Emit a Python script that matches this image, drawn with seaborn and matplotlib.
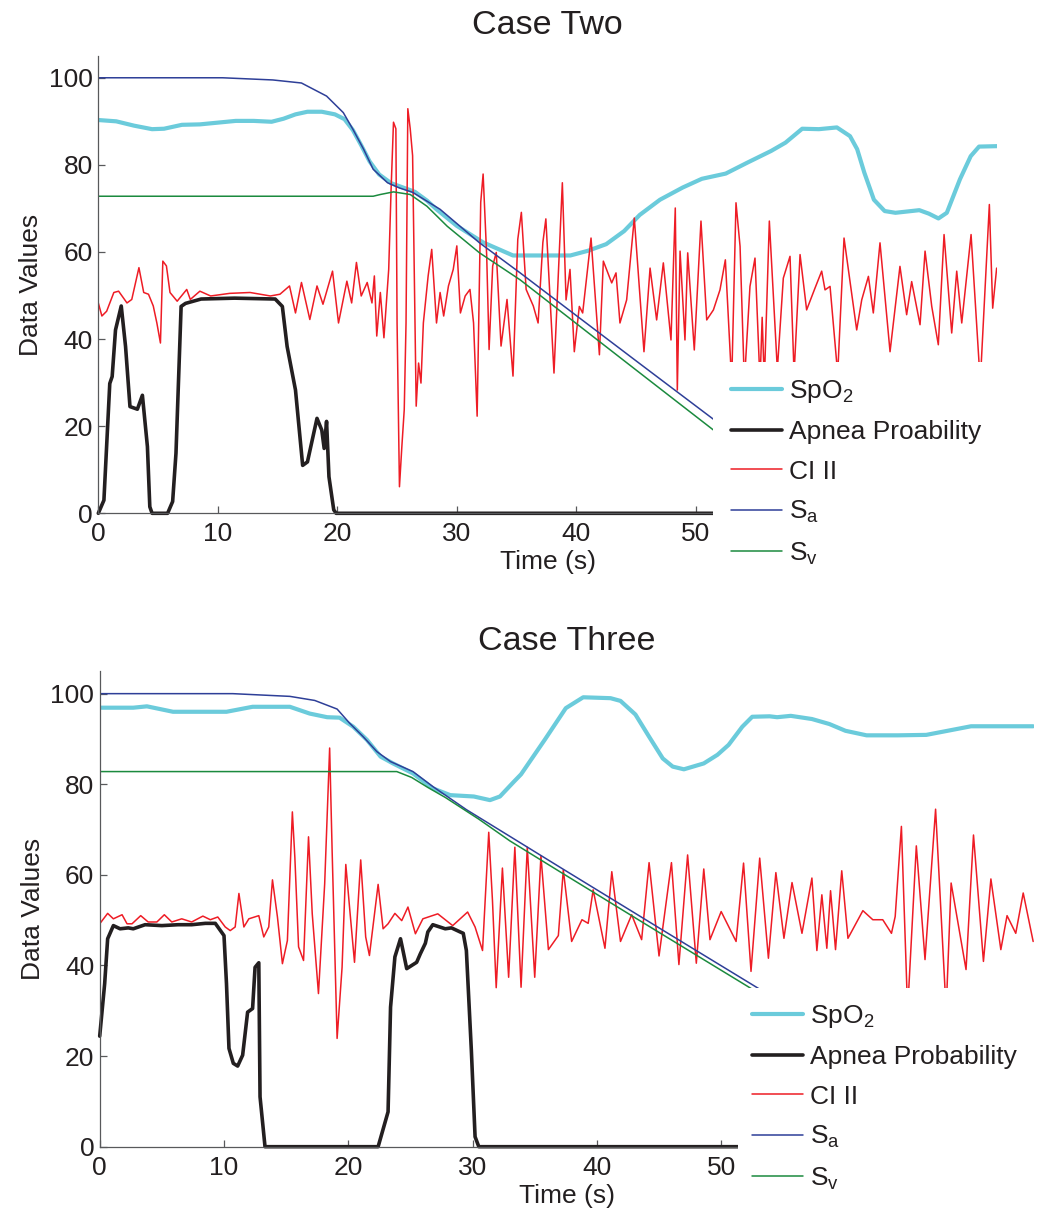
import matplotlib
matplotlib.use("Agg")
import matplotlib.pyplot as plt
from matplotlib.patches import Rectangle
import seaborn as sns

# ---------------- Case Two data ----------------
two_spo2_t = [0, 1.5, 3, 4.5, 5.5, 7, 8.5, 10, 11.5, 13,
              14.5, 15.5, 16.5, 17.5, 18.7, 19.8, 20.6, 21.3, 22, 22.7,
              23.5, 24.5, 25.5, 26.5, 27.5, 28.3, 30, 32.2, 34.7, 36,
              39.5, 41, 42.5, 44, 45.3, 47, 48.9, 50.5, 52.5, 54.3,
              56.3, 57.5, 58.9, 60.3, 61.8, 62.9, 63.5, 64.1, 64.9, 65.8,
              66.7, 68.7, 69.5, 70.3, 71.0, 72.1, 73.0, 73.7, 75.2]
two_spo2_v = [90.3, 90, 89, 88.2, 88.3, 89.2, 89.3, 89.7, 90.1, 90.1,
              89.9, 90.6, 91.6, 92.2, 92.2, 91.6, 90.5, 88, 84.5, 80.8,
              77.8, 75.8, 74.8, 73.8, 71.8, 69.8, 66, 62.2, 59.2, 59.2,
              59.2, 60.3, 61.8, 64.8, 68.5, 72, 74.8, 76.8, 78, 80.5,
              83.2, 85.1, 88.3, 88.2, 88.6, 86.6, 83.6, 78.2, 72, 69.4,
              69, 69.6, 68.8, 67.7, 69, 76.7, 82, 84.2, 84.3]

two_apnea_t = [0, 0.47, 0.96, 1.16, 1.44, 1.92, 2.28, 2.65, 3.27, 3.69,
               4.11, 4.31, 4.5, 5.8, 6.22, 6.5, 6.93, 7.3, 8.6, 11.4,
               14.8, 15.4, 15.8, 16.5, 17.1, 17.5, 18.3, 18.7, 18.9, 19.1,
               19.3, 19.7, 19.9, 75.2]
two_apnea_v = [0, 3, 29.8, 31.4, 42.1, 47.6, 38.3, 24.5, 23.9, 27.1,
               15.3, 1.5, 0, 0, 2.7, 13.8, 47.5, 48.2, 49.2, 49.4,
               49.2, 47.5, 38.3, 28.3, 11, 11.8, 21.8, 19.1, 14.9, 21.1,
               8.4, 0.8, 0, 0]

two_ci_t = [0, 0.3, 0.7, 1.3, 1.7, 2.4, 2.8, 3.4, 3.8, 4.2,
            4.6, 4.9, 5.2, 5.4, 5.7, 6.0, 6.6, 7.4, 7.7, 8.5,
            9.4, 11.0, 12.7, 14.4, 15.2, 16.0, 16.5, 17.0, 17.7, 18.3,
            18.8, 19.6, 20.1, 20.8, 21.2, 21.6, 22.0, 22.5, 22.9, 23.1,
            23.3, 23.6, 23.9, 24.3, 24.5, 24.7, 24.9, 25.0, 25.2, 25.4,
            25.6, 25.75, 25.9, 26.1, 26.3, 26.5, 26.6, 26.8, 27.0, 27.2,
            27.6, 27.9, 28.3, 28.6, 28.9, 29.3, 29.7, 30.0, 30.3, 30.7,
            31.1, 31.4, 31.7, 32.0, 32.2, 32.5, 32.7, 33.0, 33.3, 33.7,
            34.2, 34.7, 35.1, 35.4, 35.8, 36.4, 36.8, 37.2, 37.45, 38.13,
            38.83, 39.14, 39.47, 39.83, 40.25, 40.53, 41.23, 41.93, 42.26, 42.96,
            43.32, 43.65, 44.21, 44.85, 45.66, 46.17, 46.72, 47.28, 47.92, 48.28,
            48.45, 48.68, 49.09, 49.32, 49.87, 50.43, 50.91, 51.47, 52.02, 52.47,
            53.0, 53.36, 53.7, 54.06, 54.53, 54.95, 55.37, 55.55, 55.73, 56.15,
            56.82, 57.32, 57.88, 58.22, 58.72, 59.27, 59.97, 60.53, 60.81, 61.23,
            61.87, 62.4, 63.46, 63.88, 64.44, 64.85, 65.41, 66.25, 67.08, 67.64,
            68.06, 68.76, 69.18, 69.74, 70.29, 70.77, 71.41, 71.83, 72.25, 73.03,
            73.8, 74.56, 74.84, 75.17]
two_ci_v = [48.3, 45.3, 46.4, 50.7, 51, 48.3, 49.1, 56.4, 50.7, 50.3,
            47.6, 43.7, 39.1, 57.9, 56.8, 50.7, 48.7, 51.4, 49.1, 51,
            49.9, 50.5, 50.7, 49.9, 50.3, 52.2, 46, 53, 44.5, 52.2,
            48, 55.6, 43.7, 53.3, 48.3, 57.6, 49.9, 53, 48.3, 54.5,
            40.7, 50.7, 40.3, 56, 74.4, 89.8, 88.3, 43.7, 6.1, 15.3,
            23.8, 43.7, 92.9, 88.3, 82.1, 43.7, 24.6, 34.5, 29.9, 43.7,
            54.5, 60.6, 43.7, 50.7, 45.3, 52.2, 56, 61.4, 46, 49.9,
            51.4, 43.7, 22.3, 71.4, 77.9, 59.1, 37.6, 56.8, 59.9, 38.4,
            49.1, 31.5, 62.9, 69.1, 51.4, 47.6, 43.7, 62.2, 67.6, 32.2,
            75.9, 49, 56, 37.1, 47.5, 46, 63.2, 36.4, 57.9, 52.9,
            55.2, 43.7, 49, 67.8, 37.1, 56.3, 44.4, 57.5, 39.8, 70.1,
            28.3, 60.2, 39.8, 59.8, 37.5, 67.1, 44.4, 46.7, 51.3, 58.2,
            30, 71.3, 61.3, 30, 52.1, 58.6, 30, 45, 30, 67.1,
            33, 54, 59, 32, 59.4, 46.7, 51.7, 55.6, 51.3, 52.1,
            32, 63.2, 42.1, 49, 54.4, 46, 62.1, 37.1, 56.7, 45.6,
            53.2, 43.3, 60.2, 47.5, 38.7, 64, 41.4, 55.6, 43.7, 64,
            30, 70.9, 47.1, 56.3]

two_sa_t = [0, 10.4, 14.6, 17.0, 19.1, 20.5, 21.3, 22.2, 23.0, 24.2,
            25.2, 26.3, 28.6, 31.9, 35.3, 40, 45, 52, 58]
two_sa_v = [100, 100, 99.5, 98.8, 95.8, 92, 88.2, 83.6, 79, 75.9,
            74.7, 73.7, 69.8, 62.1, 55.2, 45.4, 35.0, 20.5, 8.0]

two_sv_t = [0, 23.0, 23.6, 24.7, 26.1, 27.5, 29.2, 31.9, 35.3, 45, 52, 58]
two_sv_v = [72.8, 72.8, 73.2, 73.8, 73.2, 70.5, 65.9, 59.8, 53.6, 32.9, 18.0, 5.0]

# ---------------- Case Three data ----------------
three_spo2_t = [0, 2.7, 3.8, 5.9, 10.2, 12.3, 15.3, 16.9, 18.3, 19.3,
                20.4, 21.5, 22.6, 23.6, 25.2, 26.8, 28.2, 30.1, 31.4, 32.2,
                33.3, 33.9, 35.8, 37.5, 38.9, 41.1, 41.9, 43.1, 44.2, 45.3,
                46.1, 47.0, 48.6, 49.7, 50.6, 51.7, 52.5, 53.9, 54.5, 55.6,
                57.3, 58.7, 60.0, 61.7, 64.2, 66.5, 68.4, 70.1, 75.1]
three_spo2_v = [96.9, 96.9, 97.2, 96.0, 96.0, 97.1, 97.1, 95.6, 94.8, 94.7,
                92.7, 89.8, 86.1, 84.6, 82.4, 79.1, 77.6, 77.3, 76.5, 77.3,
                80.5, 82.2, 89.8, 96.8, 99.2, 99.0, 98.4, 95.4, 90.5, 85.7,
                83.9, 83.3, 84.6, 86.5, 88.7, 92.7, 94.9, 95.0, 94.8, 95.1,
                94.4, 93.3, 91.8, 90.8, 90.8, 90.9, 91.9, 92.8, 92.8]

three_apnea_t = [0, 0.4, 0.64, 1.1, 1.64, 2.3, 2.7, 3.65, 5.0, 6.3,
                 7.4, 8.5, 9.3, 10.0, 10.2, 10.4, 10.75, 11.1, 11.5, 11.9,
                 12.3, 12.5, 12.8, 12.9, 13.3, 22.4, 23.2, 23.4, 23.75, 24.2,
                 24.4, 24.7, 25.5, 25.8, 26.2, 26.4, 26.8, 27.8, 28.3, 29.0,
                 29.25, 29.5, 29.9, 30.2, 30.5, 75.1]
three_apnea_v = [24.4, 36, 45.9, 48.8, 48.1, 48.3, 48.1, 49, 48.8, 49,
                 49, 49.3, 49.3, 46.6, 36, 21.7, 18.4, 17.8, 20.2, 29.7,
                 30.5, 39.6, 40.6, 11, 0, 0, 7.7, 30.8, 41.9, 45.9,
                 43.3, 39.3, 40.7, 42.6, 44.9, 47.4, 49, 48.1, 48.3, 47.4,
                 47.1, 43.3, 21.3, 2.2, 0, 0]

three_ci_t = [0, 0.64, 1.1, 1.8, 2.2, 2.6, 3.3, 3.9, 4.6, 5.2,
              5.8, 6.6, 7.4, 8.3, 8.9, 9.5, 10.1, 10.5, 10.9, 11.2,
              11.6, 12.0, 12.8, 13.2, 13.6, 13.9, 14.3, 14.7, 15.1, 15.5,
              15.7, 16.0, 16.4, 16.8, 17.1, 17.6, 18.1, 18.5, 18.7, 19.1,
              19.5, 19.8, 20.1, 20.5, 21.0, 21.4, 21.7, 22.4, 22.8, 23.2,
              23.75, 24.3, 24.8, 25.4, 26.0, 27.2, 28.4, 29.6, 30.2, 30.8,
              31.3, 31.6, 31.9, 32.4, 32.9, 33.4, 33.9, 34.4, 35.0, 35.5,
              36.1, 36.9, 37.3, 37.97, 38.8, 39.3, 39.7, 40.65, 41.2, 41.9,
              42.8, 43.6, 44.2, 45.0, 46.0, 46.6, 47.3, 48.0, 48.6, 49.1,
              50.0, 51.2, 51.8, 52.4, 53.1, 53.8, 54.4, 55.05, 55.7, 56.5,
              57.3, 57.7, 58.1, 58.5, 58.8, 59.2, 59.7, 60.2, 61.4, 62.2,
              63.0, 63.7, 64.0, 64.5, 65.0, 65.7, 66.4, 67.25, 68.1, 68.5,
              69.7, 70.3, 71.1, 71.7, 72.5, 73.0, 73.7, 74.3, 75.1]
three_ci_v = [49.2, 51.5, 50.3, 51.2, 49.2, 49.2, 51, 49.6, 49.6, 51.2,
              49.6, 50.3, 49.6, 50.9, 50.1, 50.7, 48.5, 47.7, 48.5, 55.9,
              48.5, 50.3, 51, 46.3, 48.5, 58.9, 50.7, 40.4, 45.5, 73.9,
              63.9, 44.1, 41.1, 68.4, 51.4, 33.8, 58, 88, 65.3, 23.9,
              39.6, 62.3, 52.9, 40.7, 63.3, 46.3, 42.2, 57.9, 48.1, 49.2,
              51.5, 49.9, 52.9, 47, 50.3, 51.4, 48.8, 51.8, 48.5, 43.3,
              69.4, 54.3, 35.1, 61.5, 37.4, 66.1, 35.2, 66.1, 37.4, 64.2,
              43.5, 46.6, 61.1, 45.3, 50.1, 49.3, 56.7, 43.8, 60.7, 45.3,
              51.2, 45.7, 62.7, 42.1, 62.7, 40.2, 64.4, 40.5, 61.3, 45.7,
              51.9, 45.3, 62.6, 38.7, 63.7, 41.6, 60.5, 46, 58.3, 47.1,
              59.3, 43.3, 55.6, 43.8, 56.5, 43.5, 60.9, 46, 52.1, 50.1,
              50.1, 47.1, 50.8, 70.7, 30, 66.4, 41.3, 74.5, 30, 58.2,
              39.1, 68.8, 40.9, 59.1, 43.5, 51, 47.1, 56, 45.3]

three_sa_t = [0, 10.7, 15.3, 17.3, 19.1, 20.1, 21.2, 22.3, 23.4, 25.2,
              26.8, 29.5, 33.0, 37.2, 45, 52.6, 60]
three_sa_v = [100, 100, 99.4, 98.5, 96.6, 93.5, 90.5, 87.2, 85, 82.8,
              79.5, 74.4, 68.5, 61.4, 48.3, 35.6, 23.2]

three_sv_t = [0, 23.9, 25.1, 26.4, 27.8, 30.5, 33.0, 37.2, 45, 52.3, 60]
three_sv_v = [82.8, 82.8, 81.5, 79.3, 77.1, 72.3, 67.5, 60.4, 47.3, 35.1, 22.2]

titles = ["Case Two", "Case Three"]
apnea_labels = ["Apnea Proability", "Apnea Probability"]
x_ticks = [0, 10, 20, 30, 40, 50]
y_ticks = [0, 20, 40, 60, 80, 100]

# ---------------- style ----------------
sns.set_style("ticks")
plt.rcParams['font.family'] = ['Liberation Sans', 'DejaVu Sans']
plt.rcParams['mathtext.default'] = 'regular'

TEXT = '#231F20'
SPINE = '#58595B'
C_SPO2 = '#6BCBDB'
C_APNEA = '#231F20'
C_CI = '#EE1C25'
C_SA = '#2E3F98'
C_SV = '#1B8A3E'

W, H = 1040, 1215
fig = plt.figure(figsize=(W / 100, H / 100), dpi=100)

# axes rectangles in pixels (left, top, right, bottom)
boxes = [(98.3, 56.0, 997.0, 513.3), (99.7, 671.0, 1034.4, 1146.7)]
cover = [(713, 362, 1040, 600), (738, 988, 1040, 1215)]
leg_anchor = [(731, 378), (752, 1003)]
title_pad = [15.5, 14.8]

datasets = [
    [(two_spo2_t, two_spo2_v), (two_apnea_t, two_apnea_v), (two_ci_t, two_ci_v),
     (two_sa_t, two_sa_v), (two_sv_t, two_sv_v)],
    [(three_spo2_t, three_spo2_v), (three_apnea_t, three_apnea_v), (three_ci_t, three_ci_v),
     (three_sa_t, three_sa_v), (three_sv_t, three_sv_v)],
]

for i in range(2):
    l, t, r, b = boxes[i]
    ax = fig.add_axes([l / W, 1 - b / H, (r - l) / W, (b - t) / H])
    labels = ["SpO$_2$", apnea_labels[i], "CI II", "S$_a$", "S$_v$"]
    colors = [C_SPO2, C_APNEA, C_CI, C_SA, C_SV]
    widths = [3.0, 2.6, 1.1, 1.1, 1.1]
    for (tx, vy), lab, col, lw in zip(datasets[i], labels, colors, widths):
        sns.lineplot(x=tx, y=vy, ax=ax, color=col, linewidth=lw, label=lab,
                     estimator=None, sort=False)
        if lab.startswith("Apnea"):
            ax.lines[-1].set_clip_on(False)
            ax.lines[-1].set_solid_joinstyle('round')

    ax.set_xlim(0, 75.2)
    ax.set_ylim(0, 105)
    ax.set_xticks(x_ticks)
    ax.set_yticks(y_ticks)
    sns.despine(ax=ax)
    for s in ("left", "bottom"):
        ax.spines[s].set_color(SPINE)
        ax.spines[s].set_linewidth(0.9)
    ax.tick_params(axis='both', direction='in', length=5, width=0.9, color=SPINE,
                   labelsize=19, labelcolor=TEXT)
    ax.tick_params(axis='x', pad=6.5)
    ax.tick_params(axis='y', pad=4)
    ax.set_xlabel("Time (s)", fontsize=19, color=TEXT, labelpad=3)
    ax.set_ylabel("Data Values", fontsize=19, color=TEXT, labelpad=4)
    ax.set_title(titles[i], fontsize=24.5, color=TEXT, pad=title_pad[i])

    handles, labs = ax.get_legend_handles_labels()
    ax.get_legend().remove()

    cx0, cy0, cx1, cy1 = cover[i]
    fig.add_artist(Rectangle((cx0 / W, 1 - cy1 / H), (cx1 - cx0) / W, (cy1 - cy0) / H,
                             transform=fig.transFigure, facecolor='white',
                             edgecolor='none', zorder=3))
    ax_, ay_ = leg_anchor[i]
    leg = fig.legend(handles, labs, loc='upper left', bbox_to_anchor=(ax_ / W, 1 - ay_ / H),
                     frameon=False, fontsize=19, handlelength=1.95, handletextpad=0.25,
                     labelspacing=0.58, borderpad=0, borderaxespad=0)
    for txt in leg.get_texts():
        txt.set_color(TEXT)
    leg.set_zorder(5)

fig.savefig("out.png", dpi=100)
